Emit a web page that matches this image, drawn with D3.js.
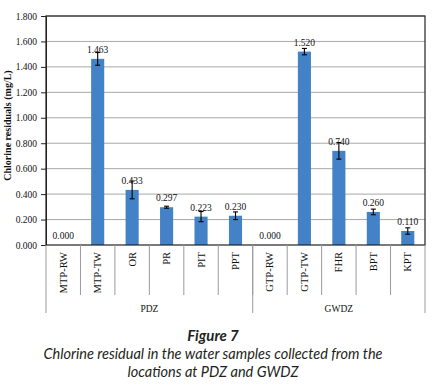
<!DOCTYPE html>
<html lang="en">
<head>
    <meta charset="UTF-8">
    <title>Chlorine residual</title>
    <script src="https://d3js.org/d3.v7.min.js"></script>
    <style>
        body { margin: 0; background: #fff; }
        .tick-label { font-family: "Liberation Serif", serif; font-size: 9.5px; fill: #111; }
        .cat-label { font-family: "Liberation Serif", serif; font-size: 10.5px; fill: #111; }
        .caption { font-family: Lato, "Open Sans", sans-serif; fill: #231f20; }
    </style>
</head>
<body>
    <svg width="439" height="392"></svg>
    <script>
        // Data
        const categories = ["MTP-RW", "MTP-TW", "OR", "PR", "PIT", "PPT", "GTP-RW", "GTP-TW", "FHR", "BPT", "KPT"];
        const values = [0.000, 1.463, 0.433, 0.297, 0.223, 0.230, 0.000, 1.520, 0.740, 0.260, 0.110];
        const errors = [0, 0.05, 0.07, 0.008, 0.04, 0.03, 0, 0.025, 0.065, 0.022, 0.025];
        const zones = ["PDZ", "PDZ", "PDZ", "PDZ", "PDZ", "PDZ", "GWDZ", "GWDZ", "GWDZ", "GWDZ", "GWDZ"];
        const yTicks = [0, 0.2, 0.4, 0.6, 0.8, 1.0, 1.2, 1.4, 1.6, 1.8];

        const data = categories.map((c, i) => ({name: c, value: values[i], err: errors[i], zone: zones[i]}));

        // plot box
        const plot = {left: 46, right: 425, top: 16, bottom: 245};
        const svg = d3.select("svg");

        const x = d3.scaleBand()
            .domain(categories)
            .range([plot.left, plot.right])
            .paddingInner(0.62)
            .paddingOuter(0.31);
        const step = x.step();

        const y = d3.scaleLinear()
            .domain([0, 1.8])
            .range([plot.bottom, plot.top]);

        // gridlines
        svg.append("g")
            .selectAll("line")
            .data(yTicks.slice(1))
            .join("line")
            .attr("x1", plot.left).attr("x2", plot.right)
            .attr("y1", d => y(d)).attr("y2", d => y(d))
            .attr("stroke", "#a8a8a8")
            .attr("stroke-width", 1);

        // bars
        svg.append("g")
            .selectAll("rect")
            .data(data)
            .join("rect")
            .attr("x", d => x(d.name))
            .attr("y", d => y(d.value))
            .attr("width", x.bandwidth())
            .attr("height", d => y(0) - y(d.value))
            .attr("fill", "#4382c6");

        // error bars
        const cx = d => x(d.name) + x.bandwidth() / 2;
        const eb = svg.append("g")
            .selectAll("g")
            .data(data.filter(d => d.value > 0))
            .join("g")
            .attr("stroke", "#000")
            .attr("stroke-width", 1.1);
        eb.append("line")
            .attr("x1", cx).attr("x2", cx)
            .attr("y1", d => y(d.value + d.err)).attr("y2", d => y(d.value - d.err));
        eb.append("line")
            .attr("x1", d => cx(d) - 2.5).attr("x2", d => cx(d) + 2.5)
            .attr("y1", d => y(d.value + d.err)).attr("y2", d => y(d.value + d.err));
        eb.append("line")
            .attr("x1", d => cx(d) - 2.5).attr("x2", d => cx(d) + 2.5)
            .attr("y1", d => y(d.value - d.err)).attr("y2", d => y(d.value - d.err));

        // value labels
        svg.append("g")
            .selectAll("text")
            .data(data)
            .join("text")
            .attr("class", "tick-label")
            .attr("x", cx)
            .attr("y", d => y(d.value) - 6)
            .attr("text-anchor", "middle")
            .text(d => d3.format(".3f")(d.value));

        // plot frame
        svg.append("rect")
            .attr("x", plot.left).attr("y", plot.top)
            .attr("width", plot.right - plot.left).attr("height", plot.bottom - plot.top)
            .attr("fill", "none")
            .attr("stroke", "#222")
            .attr("stroke-width", 1.2);

        // y axis
        const yAxis = svg.append("g")
            .attr("transform", `translate(${plot.left},0)`)
            .call(d3.axisLeft(y).tickValues(yTicks).tickFormat(d3.format(".3f")).tickSize(5).tickSizeOuter(0));
        yAxis.attr("font-family", null).attr("font-size", null);
        yAxis.select(".domain").attr("stroke", "#222");
        yAxis.selectAll(".tick line").attr("stroke", "#222");
        yAxis.selectAll(".tick text")
            .attr("class", "tick-label")
            .attr("fill", null)
            .attr("x", -9);

        // y title
        svg.append("text")
            .attr("transform", `translate(11,${(plot.top + plot.bottom) / 2 - 5}) rotate(-90)`)
            .attr("text-anchor", "middle")
            .attr("font-family", "Liberation Serif, serif")
            .attr("font-weight", "bold")
            .attr("font-size", 10)
            .attr("fill", "#111")
            .text("Chlorine residuals (mg/L)");

        // category separators
        svg.append("g")
            .selectAll("line")
            .data(d3.range(1, categories.length))
            .join("line")
            .attr("x1", i => plot.left + i * step).attr("x2", i => plot.left + i * step)
            .attr("y1", plot.bottom).attr("y2", 295)
            .attr("stroke", "#9a9a9a");

        // category labels
        svg.append("g")
            .selectAll("text")
            .data(data)
            .join("text")
            .attr("class", "cat-label")
            .attr("transform", d => `translate(${cx(d) + 3.5},252) rotate(-90)`)
            .attr("text-anchor", "end")
            .text(d => d.name);

        // zone groups
        const zoneNames = Array.from(new Set(zones));
        const zoneStart = zoneNames.map(z => zones.indexOf(z));
        const zoneEnd = zoneNames.map(z => zones.lastIndexOf(z) + 1);
        svg.append("g")
            .selectAll("line")
            .data([0, ...zoneEnd])
            .join("line")
            .attr("x1", i => plot.left + i * step).attr("x2", i => plot.left + i * step)
            .attr("y1", plot.bottom).attr("y2", 313)
            .attr("stroke", "#9a9a9a");
        svg.append("g")
            .selectAll("text")
            .data(zoneNames)
            .join("text")
            .attr("class", "tick-label")
            .attr("x", (z, i) => plot.left + (zoneStart[i] + zoneEnd[i]) / 2 * step)
            .attr("y", 312)
            .attr("text-anchor", "middle")
            .text(z => z);

        // caption
        svg.append("text")
            .attr("class", "caption")
            .attr("x", 213).attr("y", 341)
            .attr("text-anchor", "middle")
            .attr("font-size", 15)
            .attr("font-weight", "bold")
            .attr("font-style", "italic")
            .text("Figure 7");
        svg.append("text")
            .attr("class", "caption")
            .attr("x", 213).attr("y", 359)
            .attr("text-anchor", "middle")
            .attr("font-size", 14.5)
            .attr("font-style", "italic")
            .text("Chlorine residual in the water samples collected from the");
        svg.append("text")
            .attr("class", "caption")
            .attr("x", 213).attr("y", 377)
            .attr("text-anchor", "middle")
            .attr("font-size", 14.5)
            .attr("font-style", "italic")
            .text("locations at PDZ and GWDZ");
    </script>
</body>
</html>
